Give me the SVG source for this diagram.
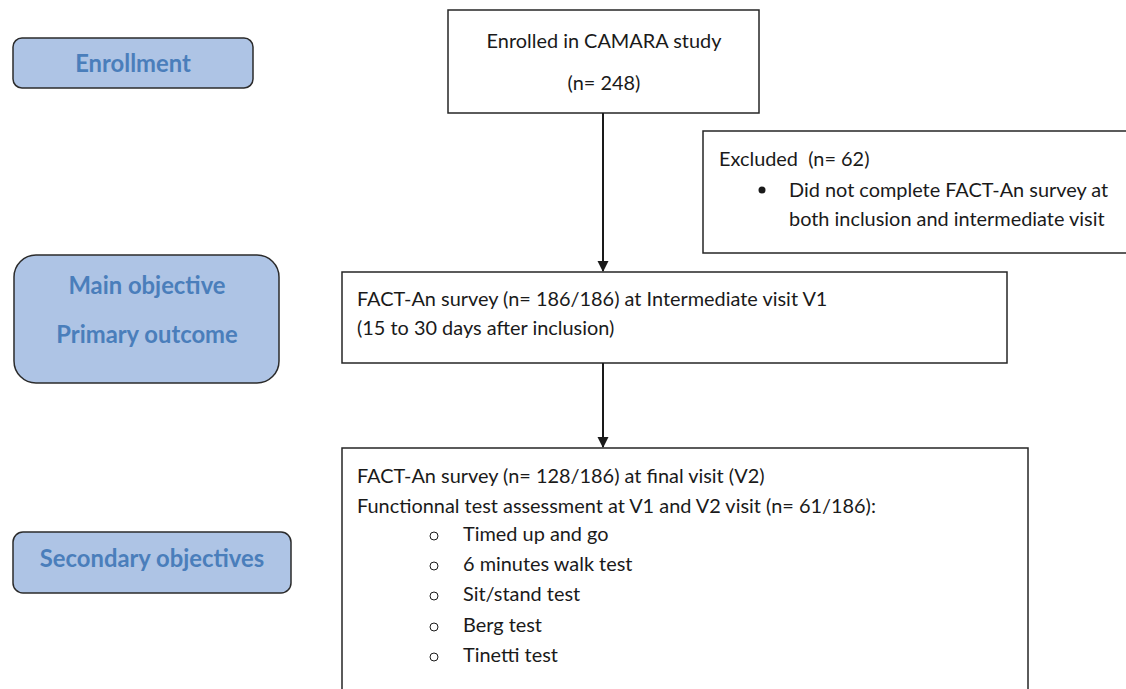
<svg xmlns="http://www.w3.org/2000/svg" width="1126" height="689" viewBox="0 0 1126 689">
<defs>
<marker id="arr" markerWidth="12" markerHeight="12" refX="10" refY="6" orient="auto" markerUnits="userSpaceOnUse">
<path d="M0,0.5 L11,6 L0,11.5 Z" fill="#1a1a1a"/>
</marker>
<style>
.stage{fill:#aec4e5;stroke:#2b2b2b;stroke-width:1.5}
.stext{font-family:Lato,"Open Sans",sans-serif;font-weight:bold;font-size:23.8px;fill:#4a7ebb;text-anchor:middle}
.box{fill:#fff;stroke:#262626;stroke-width:1.5}
.t{font-family:Lato,"Liberation Sans",sans-serif;font-size:19.9px;fill:#1a1a1a;white-space:pre}
.conn{stroke:#1a1a1a;stroke-width:2;fill:none}
</style>
</defs>
<rect width="1126" height="689" fill="#fff"/>
<g id="enrollment">
<rect class="stage" x="13" y="38" width="240" height="50" rx="9"/>
<text class="stext" x="133" y="72">Enrollment</text>
</g>
<g id="main-objective">
<rect class="stage" x="14" y="255" width="265" height="128" rx="22"/>
<text class="stext" x="147" y="294">Main objective</text>
<text class="stext" x="147" y="343">Primary outcome</text>
</g>
<g id="secondary-objectives">
<rect class="stage" x="13" y="532" width="278" height="61" rx="10"/>
<text class="stext" x="152" y="567">Secondary objectives</text>
</g>
<g id="enrolled">
<rect class="box" x="448" y="10" width="311" height="103"/>
<text class="t" x="604" y="48" text-anchor="middle">Enrolled in CAMARA study</text>
<text class="t" x="604" y="90" text-anchor="middle">(n= 248)</text>
</g>
<g id="excluded">
<rect class="box" x="703" y="131" width="430" height="122"/>
<text class="t" x="719" y="166" xml:space="preserve">Excluded  (n= 62)</text>
<circle cx="762" cy="190" r="3.5" fill="#1a1a1a"/>
<text class="t" x="789" y="197">Did not complete FACT-An survey at</text>
<text class="t" x="789" y="226">both inclusion and intermediate visit</text>
</g>
<g id="v1">
<rect class="box" x="342" y="272" width="665" height="91"/>
<text class="t" x="357" y="306">FACT-An survey (n= 186/186) at Intermediate visit V1</text>
<text class="t" x="357" y="335">(15 to 30 days after inclusion)</text>
</g>
<g id="v2">
<rect class="box" x="342" y="448" width="686" height="260"/>
<text class="t" x="357" y="483">FACT-An survey (n= 128/186) at final visit (V2)</text>
<text class="t" x="357" y="513">Functionnal test assessment at V1 and V2 visit (n= 61/186):</text>
<g fill="none" stroke="#1a1a1a" stroke-width="1">
<circle cx="434" cy="536" r="4"/>
<circle cx="434" cy="566" r="4"/>
<circle cx="434" cy="596" r="4"/>
<circle cx="434" cy="627" r="4"/>
<circle cx="434" cy="657" r="4"/>
</g>
<text class="t" x="463" y="541">Timed up and go</text>
<text class="t" x="463" y="571">6 minutes walk test</text>
<text class="t" x="463" y="601">Sit/stand test</text>
<text class="t" x="463" y="632">Berg test</text>
<text class="t" x="463" y="662">Tinetti test</text>
</g>
<g id="connectors">
<line class="conn" x1="603" y1="113" x2="603" y2="271" marker-end="url(#arr)"/>
<line class="conn" x1="603" y1="363" x2="603" y2="447" marker-end="url(#arr)"/>
</g>
</svg>
